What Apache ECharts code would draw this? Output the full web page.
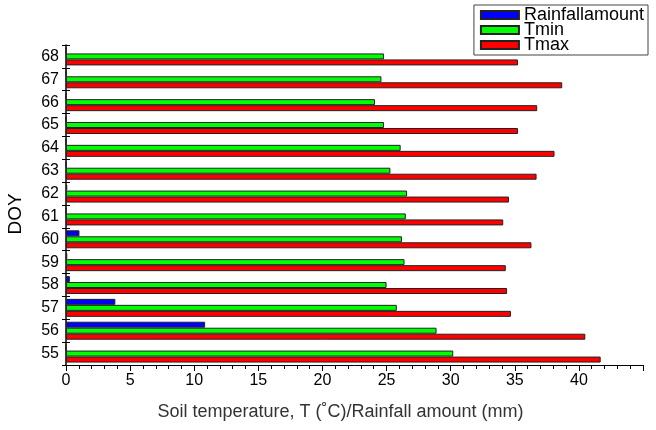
<!DOCTYPE html>
<html>
<head>
<meta charset="utf-8">
<script src="https://cdn.jsdelivr.net/npm/echarts@6/dist/echarts.min.js"></script>
<style>html,body{margin:0;padding:0;background:#fff;}#c{width:656px;height:430px;}</style>
</head>
<body>
<div id="c"></div>
<script>
var days = ['55','56','57','58','59','60','61','62','63','64','65','66','67','68'];
var rainfall = [0, 10.85, 3.85, 0.3, 0.1, 1.05, 0, 0.1, 0, 0, 0, 0, 0, 0];
var tmin = [30.2, 28.9, 25.8, 25.0, 26.4, 26.2, 26.5, 26.6, 25.3, 26.1, 24.8, 24.1, 24.6, 24.8];
var tmax = [41.7, 40.5, 34.7, 34.4, 34.3, 36.3, 34.1, 34.55, 36.7, 38.1, 35.25, 36.75, 38.7, 35.25];

var chart = echarts.init(document.getElementById('c'), null, {renderer: 'canvas'});
var font = 'Liberation Sans, Arial, sans-serif';
function bar(name, data, color) {
  return {
    name: name, type: 'bar', data: data, barWidth: 6, barGap: '0%',
    itemStyle: {color: color, borderColor: '#222', borderWidth: 1},
    emphasis: {disabled: true}
  };
}
chart.setOption({
  animation: false,
  textStyle: {fontFamily: font},
  legend: {
    right: 8, top: 5, orient: 'vertical', itemWidth: 38, itemHeight: 8, itemGap: -3,
    borderColor: '#444', borderWidth: 1, padding: [1, 4, 1, 6],
    textStyle: {fontSize: 18, color: '#000', fontFamily: font},
    data: ['Rainfallamount', 'Tmin', 'Tmax'],
    icon: 'rect'
  },
  graphic: [{
    type: 'text', x: 6, y: 214, rotation: Math.PI / 2,
    style: {text: 'DOY', font: '19px ' + font, fill: '#000', align: 'center', verticalAlign: 'top'}
  }],
  grid: {left: 66, right: 13, top: 45, bottom: 65},
  xAxis: {
    type: 'value', min: 0, max: 45, interval: 5,
    name: 'Soil temperature, T (\u02DAC)/Rainfall amount (mm)',
    nameLocation: 'middle', nameGap: 38,
    nameTextStyle: {fontSize: 18, color: '#333', fontFamily: font, padding: [0, 28, 0, 0]},
    axisLine: {show: true, lineStyle: {color: '#000', width: 1}},
    axisTick: {show: true, length: 6, lineStyle: {color: '#000'}},
    minorTick: {show: true, splitNumber: 5, length: 4, lineStyle: {color: '#000'}},
    splitLine: {show: false},
    axisLabel: {fontSize: 16, color: '#000', margin: 8, fontFamily: font,
      formatter: function (v) { return v === 45 ? '' : v; }}
  },
  yAxis: [{
    type: 'category', data: days,
    axisLine: {show: true, lineStyle: {color: '#000', width: 1.5}},
    axisTick: {show: true, length: 4, alignWithLabel: false, lineStyle: {color: '#000'}},
    axisLabel: {fontSize: 16, color: '#000', margin: 7, fontFamily: font}
  }, {
    type: 'category', data: days, position: 'left', offset: 0,
    axisLine: {show: false},
    axisTick: {show: true, inside: true, length: 4, lineStyle: {color: '#000'}},
    axisLabel: {show: false}
  }],
  series: [
    bar('Rainfallamount', rainfall, '#0000ff'),
    bar('Tmin', tmin, '#00ff00'),
    bar('Tmax', tmax, '#ff0000')
  ]
});
</script>
</body>
</html>
